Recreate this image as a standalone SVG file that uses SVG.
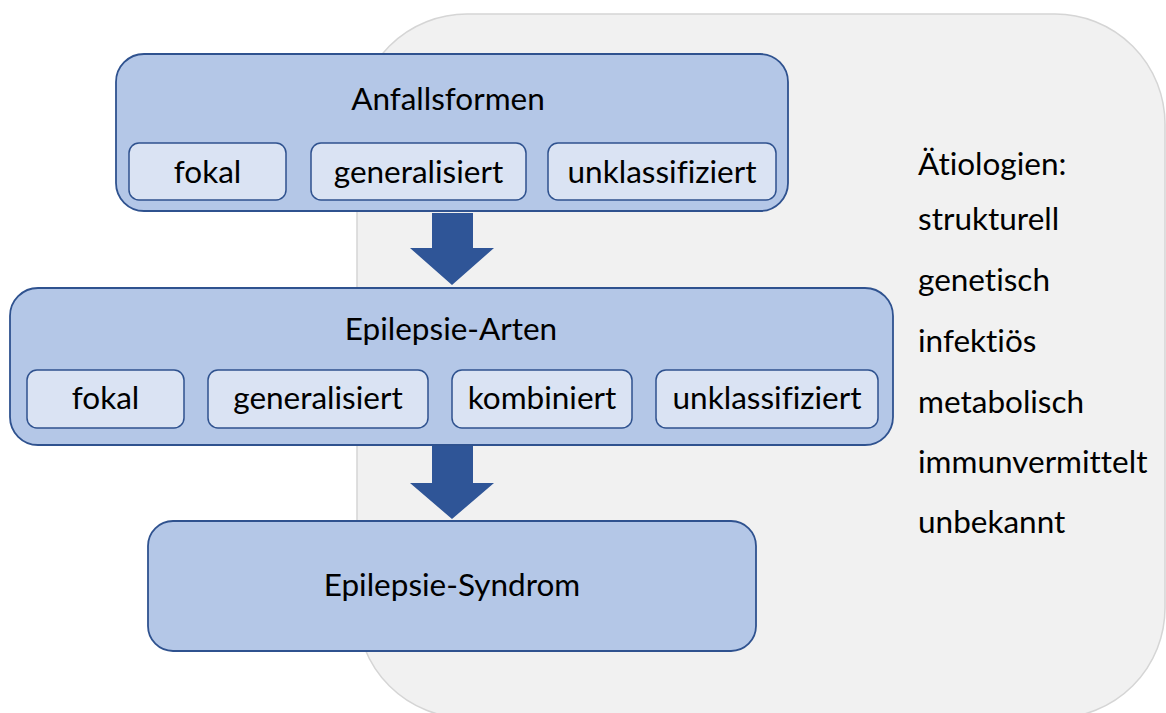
<svg xmlns="http://www.w3.org/2000/svg" width="1166" height="713" viewBox="0 0 1166 713">
<style>
.bg{fill:#f1f1f1;stroke:#d5d5d5;stroke-width:1.5}
.outer{fill:#b4c7e7;stroke:#2f528f;stroke-width:1.8}
.inner{fill:#dae3f3;stroke:#2f528f;stroke-width:1.5}
.t{font-family:Lato,"Liberation Sans",sans-serif;font-size:31.5px;fill:#000;text-anchor:middle;font-variant-ligatures:none;font-feature-settings:"liga" 0,"dlig" 0}
.l{font-family:Lato,"Liberation Sans",sans-serif;font-size:31.5px;fill:#000;font-variant-ligatures:none;font-feature-settings:"liga" 0,"dlig" 0}
.arrow{fill:#2f5597}
</style>
<rect class="bg" x="357" y="14" width="808" height="704" rx="110"/>
<g id="etiologies">
<text class="l" x="918" y="175">Ätiologien:</text>
<text class="l" x="918" y="230">strukturell</text>
<text class="l" x="918" y="291">genetisch</text>
<text class="l" x="918" y="352">infektiös</text>
<text class="l" x="918" y="413">metabolisch</text>
<text class="l" x="918" y="473">immunvermittelt</text>
<text class="l" x="918" y="533">unbekannt</text>
</g>
<g id="anfallsformen">
<rect class="outer" x="116" y="54" width="672" height="157" rx="28"/>
<text class="t" x="448" y="110">Anfallsformen</text>
<rect class="inner" x="129" y="143" width="157" height="57" rx="10"/>
<text class="t" x="207.5" y="183">fokal</text>
<rect class="inner" x="311" y="143" width="215" height="57" rx="10"/>
<text class="t" x="418.5" y="183">generalisiert</text>
<rect class="inner" x="548" y="143" width="228" height="57" rx="10"/>
<text class="t" x="662" y="183">unklassifiziert</text>
</g>
<g id="epilepsie-arten">
<rect class="outer" x="10" y="288" width="883" height="157" rx="28"/>
<text class="t" x="451" y="340">Epilepsie-Arten</text>
<rect class="inner" x="27" y="370" width="157" height="58" rx="10"/>
<text class="t" x="105.5" y="409">fokal</text>
<rect class="inner" x="208" y="370" width="220" height="58" rx="10"/>
<text class="t" x="318" y="409">generalisiert</text>
<rect class="inner" x="452" y="370" width="180" height="58" rx="10"/>
<text class="t" x="542" y="409">kombiniert</text>
<rect class="inner" x="656" y="370" width="222" height="58" rx="10"/>
<text class="t" x="767" y="409">unklassifiziert</text>
</g>
<g id="epilepsie-syndrom">
<rect class="outer" x="148" y="521" width="608" height="130" rx="25"/>
<text class="t" x="452" y="596">Epilepsie-Syndrom</text>
</g>
<g id="connectors">
<polygon class="arrow" points="432,213 473,213 473,248 494,248 452,285 410,248 432,248"/>
<polygon class="arrow" points="432,446 473,446 473,483 494,483 452,519 410,483 432,483"/>
</g>
</svg>
